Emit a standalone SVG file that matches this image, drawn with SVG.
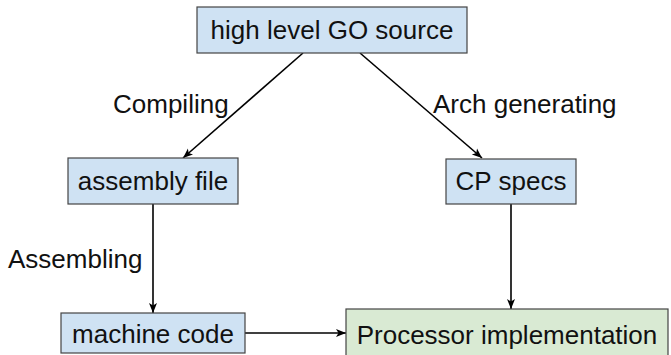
<svg xmlns="http://www.w3.org/2000/svg" width="671" height="355" viewBox="0 0 671 355">
<defs>
<marker id="ah" viewBox="0 0 10 10" refX="10" refY="5" markerWidth="10" markerHeight="10" markerUnits="userSpaceOnUse" orient="auto">
<path d="M0,1 L10,5 L0,9 L2.5,5 Z" fill="#000"/>
</marker>
<style>
.n{fill:#cfe2f3;stroke:#444;stroke-width:1.2}
.g{fill:#d9ead3;stroke:#444;stroke-width:1.2}
text{font-family:"Liberation Sans",Arial,sans-serif;font-size:26px;fill:#111}
.c{text-anchor:middle}
.e{stroke:#000;stroke-width:1.6;fill:none;marker-end:url(#ah)}
</style>
</defs>
<rect width="671" height="355" fill="#fff"/>
<g id="edges">
<line class="e" x1="303" y1="53" x2="183" y2="158"/>
<line class="e" x1="360" y1="53" x2="482" y2="158"/>
<line class="e" x1="153" y1="204" x2="153" y2="313"/>
<line class="e" x1="511" y1="204" x2="511" y2="309"/>
<line class="e" x1="245" y1="333" x2="346" y2="333"/>
<text x="113" y="113">Compiling</text>
<text x="433" y="113">Arch generating</text>
<text x="8" y="268">Assembling</text>
</g>
<g id="src"><rect class="n" x="197" y="7" width="270" height="46"/><text class="c" x="332" y="39">high level GO source</text></g>
<g id="asm"><rect class="n" x="68" y="158" width="170" height="46"/><text class="c" x="153" y="190">assembly file</text></g>
<g id="cp"><rect class="n" x="446" y="159" width="130" height="45"/><text class="c" x="511" y="190">CP specs</text></g>
<g id="mc"><rect class="n" x="61" y="313" width="184" height="40"/><text class="c" x="153" y="343">machine code</text></g>
<g id="proc"><rect class="g" x="346" y="309" width="322" height="60"/><text class="c" x="507" y="344">Processor implementation</text></g>
</svg>
